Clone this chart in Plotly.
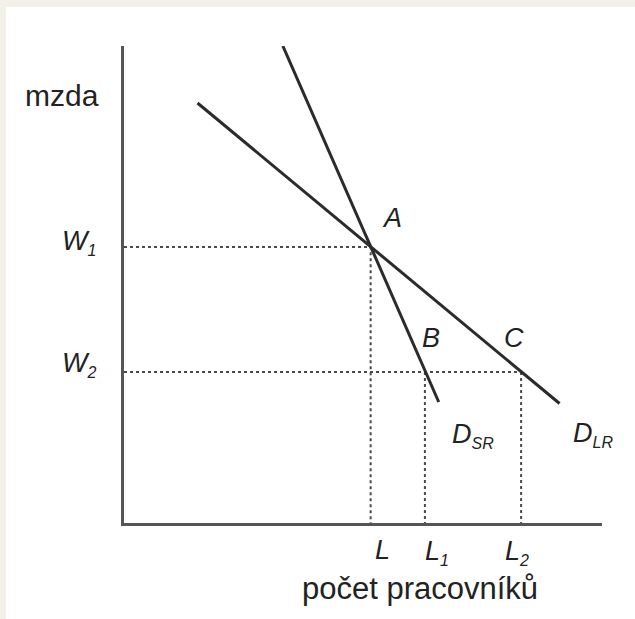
import plotly.graph_objects as go

# labour quantities and wages
L, L1, L2 = 5.0, 6.1, 8.05
W1, W2 = 5.52, 3.02

# short-run demand: top end, A, B, bottom end
dsr_x = [3.22, L, L1, 6.38]
dsr_y = [9.54, W1, W2, 2.42]

# long-run demand: top end, A, C, bottom end
dlr_x = [1.49, L, L2, 8.83]
dlr_y = [8.40, W1, W2, 2.39]

x_max, y_max = 9.69, 9.54

line_col = "#2b2b2b"
dot_col = "#4a4a4a"
font_main = "Liberation Sans, Arial, sans-serif"


def sub(base, idx):
    # italic letter with a small subscript
    return f"<i>{base}<sub><span style='font-size:16px'>{idx}</span></sub></i>"


fig = go.Figure()

# dotted guides
guides = [
    ([0, L, L], [W1, W1, 0]),
    ([0, L2], [W2, W2]),
    ([L1, L1], [W2, 0]),
    ([L2, L2], [W2, 0]),
]
for gx, gy in guides:
    fig.add_trace(go.Scatter(x=gx, y=gy, mode="lines",
                             line=dict(color=dot_col, width=2, dash="dot"),
                             hoverinfo="skip", showlegend=False))

fig.add_trace(go.Scatter(x=dsr_x, y=dsr_y, mode="lines", name="D_SR",
                         line=dict(color=line_col, width=3), showlegend=False))
fig.add_trace(go.Scatter(x=dlr_x, y=dlr_y, mode="lines", name="D_LR",
                         line=dict(color=line_col, width=3), showlegend=False))

ann = []
lab = dict(family=font_main, size=27, color="#222")

# point labels
ann.append(dict(x=L, y=W1, text="<i>A</i>", xshift=21, yshift=29))
ann.append(dict(x=L1, y=W2, text="<i>B</i>", xshift=6, yshift=34))
ann.append(dict(x=L2, y=W2, text="<i>C</i>", xshift=-7, yshift=34))
ann.append(dict(x=dsr_x[-1], y=dsr_y[-1], text=sub("D", "SR"),
                xanchor="left", xshift=11, yshift=-33))
ann.append(dict(x=dlr_x[-1], y=dlr_y[-1], text=sub("D", "LR"),
                xanchor="left", xshift=11, yshift=-31))

# axis labels
ann.append(dict(x=0, y=W1, text=sub("W", "1"), xanchor="right", xshift=-26, yshift=5))
ann.append(dict(x=0, y=W2, text=sub("W", "2"), xanchor="right", xshift=-26, yshift=8))
ann.append(dict(x=L, y=0, text="<i>L</i>", xshift=12, yshift=-27))
ann.append(dict(x=L1, y=0, text=sub("L", "1"), xshift=12, yshift=-29))
ann.append(dict(x=L2, y=0, text=sub("L", "2"), xshift=-4, yshift=-29))

for a in ann:
    a.update(showarrow=False, font=lab)

ann.append(dict(x=-0.13, xref="paper", y=0.897, yref="paper", text="mzda",
                xanchor="center", yanchor="middle", showarrow=False,
                font=dict(family=font_main, size=30, color="#222")))
ann.append(dict(x=0.6186, xref="paper", y=-0.137, yref="paper", text="počet pracovníků",
                xanchor="center", yanchor="middle", showarrow=False,
                font=dict(family=font_main, size=31, color="#222")))

fig.update_layout(
    width=635, height=619,
    margin=dict(l=124, r=33, t=46, b=96),
    paper_bgcolor="#f3f0ea",
    plot_bgcolor="white",
    annotations=ann,
    shapes=[dict(type="rect", xref="paper", yref="paper",
                 x0=-0.247, x1=1.1, y0=-0.25, y1=1.082,
                 fillcolor="white", line=dict(width=0), layer="below")],
    xaxis=dict(range=[0, x_max], showline=True, linecolor="#555", linewidth=2.5,
               showgrid=False, zeroline=False, showticklabels=False, ticks=""),
    yaxis=dict(range=[0, y_max], showline=True, linecolor="#555", linewidth=2.5,
               showgrid=False, zeroline=False, showticklabels=False, ticks=""),
)

fig.write_html("out.html", config={"displayModeBar": False},
               post_script="document.body.style.margin='0';document.body.style.background='#f3f0ea';")
